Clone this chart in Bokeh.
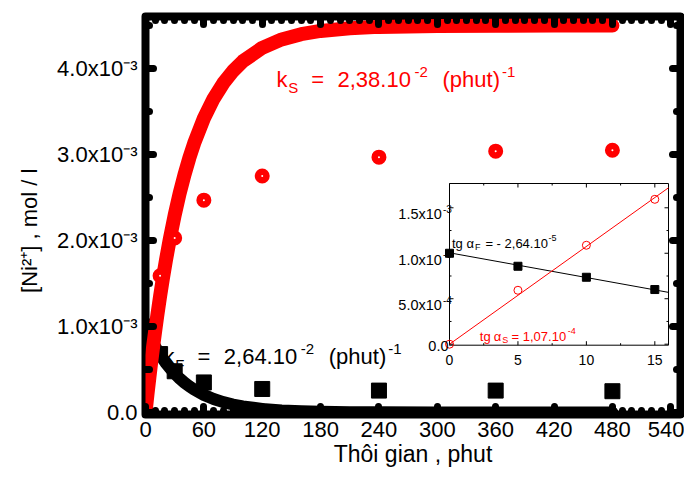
from bokeh.plotting import figure
from bokeh.models import (Range1d, LinearAxis, SingleIntervalTicker,
                          CustomJSTickFormatter, Label)
from bokeh.embed import file_html
from bokeh.resources import INLINE

# ---------------- data ----------------
t_obs = [0, 15, 30, 60, 120, 240, 360, 480]
ni_S_obs = [0.0, 1.59e-3, 2.03e-3, 2.47e-3, 2.75e-3, 2.97e-3, 3.04e-3, 3.05e-3]
ni_F_obs = [1.0e-3, 0.68e-3, 0.48e-3, 0.35e-3, 0.274e-3, 0.255e-3, 0.255e-3, 0.248e-3]

t_fit = [0, 2, 4, 6, 8, 10, 12, 15, 18, 21, 25, 30, 35, 40, 45, 50, 60, 70, 80,
         90, 100, 120, 140, 160, 180, 210, 240, 300, 360, 420, 480]
ni_S_fit = [0.0, 0.209e-3, 0.409e-3, 0.599e-3, 0.780e-3, 0.953e-3, 1.118e-3,
            1.351e-3, 1.568e-3, 1.770e-3, 2.018e-3, 2.296e-3, 2.544e-3, 2.763e-3,
            2.958e-3, 3.131e-3, 3.421e-3, 3.650e-3, 3.830e-3, 3.972e-3, 4.084e-3,
            4.241e-3, 4.339e-3, 4.400e-3, 4.438e-3, 4.470e-3, 4.485e-3, 4.496e-3,
            4.499e-3, 4.500e-3, 4.500e-3]
ni_F_fit = [1.0e-3, 0.949e-3, 0.900e-3, 0.854e-3, 0.810e-3, 0.768e-3, 0.728e-3,
            0.673e-3, 0.622e-3, 0.574e-3, 0.517e-3, 0.453e-3, 0.397e-3, 0.348e-3,
            0.305e-3, 0.267e-3, 0.205e-3, 0.158e-3, 0.121e-3, 0.093e-3, 0.071e-3,
            0.042e-3, 0.025e-3, 0.015e-3, 0.009e-3, 0.004e-3, 0.002e-3, 0.0004e-3,
            0.0001e-3, 0.0, 0.0]

y_ticks = [0.0, 1.0e-3, 2.0e-3, 3.0e-3, 4.0e-3]
y_tick_labels = ["0.0", "1.0x10\u207b\u00b3", "2.0x10\u207b\u00b3",
                 "3.0x10\u207b\u00b3", "4.0x10\u207b\u00b3"]
x_title = "Thôi gian , phut"
y_title = "[Ni\u00b2\u207a] , mol / l"

inset_t = [0, 5, 10, 15]
inset_F = [1.0e-3, 0.857e-3, 0.736e-3, 0.601e-3]
inset_S = [0.0, 0.593e-3, 1.088e-3, 1.593e-3]
inset_fit_t = [0, 16]
inset_fit_F = [1.005e-3, 0.570e-3]
inset_fit_S = [0.0, 1.720e-3]
inset_x_ticks = [0, 5, 10, 15]
inset_x_minor = [2.5, 7.5, 12.5]
inset_x_text = ["0", "5", "10", "15"]
inset_y_ticks = [0.0, 0.5e-3, 1.0e-3, 1.5e-3]
inset_y_minor = [0.25e-3, 0.75e-3, 1.25e-3]
inset_y_text = ["0.0", "5.0x10", "1.0x10", "1.5x10"]
inset_y_sup = ["", "-4", "-3", "-3"]

RED = "#ff0000"
FONT = "Liberation Sans"

# ---------------- geometry ----------------
W, H = 684, 469
FL, FR, FT, FB = 145, 680, 16, 414          # intended frame in canvas px
X0, X1 = 0.0, 550.0
Y0, Y1 = -0.0229e-3, 4.6057e-3
IX0, IX1 = 0.0, 16.0
IY0, IY1 = -0.011e-3, 1.767e-3
IL, IR, IT, IB = 449.0, 668.0, 183.0, 344.7  # inset box in canvas px

sxm = (FR - FL) / (X1 - X0)
sym = (FB - FT) / (Y1 - Y0)
sxi = (IR - IL) / (IX1 - IX0)
syi = (IB - IT) / (IY1 - IY0)

p = figure(width=W, height=H, x_range=Range1d(X0, X1), y_range=Range1d(Y0, Y1),
           output_backend="svg", toolbar_location=None,
           min_border_left=FL, min_border_right=W - FR,
           min_border_top=FT, min_border_bottom=H - FB)
p.extra_x_ranges = {"ix": Range1d(IX0 - (IL - FL) / sxi, IX1 + (FR - IR) / sxi)}
p.extra_y_ranges = {"iy": Range1d(IY0 - (FB - IB) / syi, IY1 + (IT - FT) / syi)}
p.grid.visible = False
p.background_fill_color = "white"
p.border_fill_color = "white"
p.outline_line_color = "black"
p.outline_line_width = 8
p.outline_line_join = "round"

blank = CustomJSTickFormatter(code="return ''")


def style_axis(ax):
    ax.axis_line_color = None
    ax.major_tick_in = 8
    ax.major_tick_out = 0
    ax.minor_tick_in = 4
    ax.minor_tick_out = 0
    ax.major_tick_line_width = 7
    ax.minor_tick_line_width = 7
    ax.major_tick_line_cap = "round"
    ax.minor_tick_line_cap = "round"
    ax.major_tick_line_color = "black"
    ax.minor_tick_line_color = "black"
    ax.major_label_text_font = FONT
    ax.major_label_text_font_size = "22px"
    ax.major_label_text_font_style = "normal"
    ax.major_label_text_color = "black"
    ax.axis_label_text_font = FONT
    ax.axis_label_text_font_size = "22px"
    ax.axis_label_text_font_style = "normal"
    ax.axis_label_text_color = "black"


def hide_labels(ax):
    ax.formatter = blank
    ax.major_label_text_font_size = "0px"
    ax.major_label_standoff = 0


xa = p.xaxis[0]
xa.ticker = SingleIntervalTicker(interval=60, num_minor_ticks=6)
style_axis(xa)
xa.major_label_standoff = 7
xa.axis_label = x_title
xa.axis_label_text_font_size = "23px"
xa.axis_label_standoff = 1

ya = p.yaxis[0]
ya.ticker = SingleIntervalTicker(interval=1e-3, num_minor_ticks=2)
style_axis(ya)
ya.formatter = CustomJSTickFormatter(
    args=dict(tv=y_ticks, labs=y_tick_labels),
    code="for (let i = 0; i < tv.length; i++) {"
         " if (Math.abs(tick - tv[i]) < 1e-9) return labs[i]; }"
         " return '';")
ya.major_label_standoff = 8
ya.axis_label = y_title + "\u00a0" * 5
ya.axis_label_standoff = 12

top_ax = LinearAxis(ticker=SingleIntervalTicker(interval=60, num_minor_ticks=6))
style_axis(top_ax)
hide_labels(top_ax)
p.add_layout(top_ax, "above")
right_ax = LinearAxis(ticker=SingleIntervalTicker(interval=1e-3, num_minor_ticks=2))
style_axis(right_ax)
hide_labels(right_ax)
p.add_layout(right_ax, "right")

# ---------------- main data ----------------
p.scatter(t_obs, ni_F_obs, marker="square", size=15, color="black")
p.line(t_fit, ni_F_fit, line_color="black", line_width=12, line_cap="round", line_join="round")
p.line(t_fit, ni_S_fit, line_color=RED, line_width=14, line_cap="round", line_join="round")
p.scatter(t_obs, ni_S_obs, marker="circle", size=8.5, line_width=6.5,
          line_color=RED, fill_color="white")

# ---------------- inset ----------------
p.quad(left=[IX0], right=[IX1], bottom=[IY0], top=[IY1], fill_color="white",
       line_color="black", line_width=1, x_range_name="ix", y_range_name="iy")


def inset_ticks(vals, length_px, axis):
    xs0, ys0, xs1, ys1 = [], [], [], []
    for v in vals:
        if axis == "x":
            d = length_px / syi
            xs0 += [v, v]; xs1 += [v, v]
            ys0 += [IY0, IY1]; ys1 += [IY0 + d, IY1 - d]
        else:
            d = length_px / sxi
            ys0 += [v, v]; ys1 += [v, v]
            xs0 += [IX0, IX1]; xs1 += [IX0 + d, IX1 - d]
    p.segment(xs0, ys0, xs1, ys1, line_color="black", line_width=1,
              x_range_name="ix", y_range_name="iy")


inset_ticks(inset_x_ticks, 4, "x")
inset_ticks(inset_x_minor, 2, "x")
inset_ticks(inset_y_ticks, 4, "y")
inset_ticks(inset_y_minor, 2, "y")

p.line(inset_fit_t, inset_fit_F, line_color="black", line_width=1,
       x_range_name="ix", y_range_name="iy")
p.line(inset_fit_t, inset_fit_S, line_color=RED, line_width=1,
       x_range_name="ix", y_range_name="iy")
p.scatter(inset_t, inset_F, marker="square", size=8, color="black",
          x_range_name="ix", y_range_name="iy")
p.scatter(inset_t, inset_S, marker="circle", size=8, line_color=RED,
          fill_color=None, line_width=1, x_range_name="ix", y_range_name="iy")


# ---------------- texts inside the frame ----------------
def label(text, x, y, size, color="black", align="left", inset=False):
    kw = dict(x_range_name="ix", y_range_name="iy") if inset else {}
    p.add_layout(Label(x=x, y=y, text=text, text_font=FONT,
                       text_font_size=f"{size}px", text_color=color,
                       text_align=align, text_baseline="alphabetic", **kw))


def rich(x, y, pieces, color, inset=False):
    """pieces: (text, size, dx_px, dy_px) relative to the data anchor (dy down)."""
    kx = sxi if inset else sxm
    ky = syi if inset else sym
    for text, size, dx, dy in pieces:
        label(text, x + dx / kx, y - dy / ky, size, color, inset=inset)


# rate constants (anchors in data units of the main plot)
rich(134.7, 3.874e-3, [("k", 22, 0, 0), ("S", 15, 11.7, 8), ("=", 22, 34.7, 0),
                       ("2,38.10", 22, 61.0, 0), ("-2", 15, 138.0, -7.3),
                       ("(phut)", 22, 166.0, 0), ("-1", 15, 225.5, -7.3)], RED)
rich(18.5, 0.655e-3, [("k", 22, 0, 0), ("F", 15, 11.7, 8), ("=", 22, 34.0, 0),
                      ("2,64.10", 22, 60.3, 0), ("-2", 15, 137.3, -7.3),
                      ("(phut)", 22, 165.3, 0), ("-1", 15, 224.8, -7.3)], "black")

# inset tick labels
for v, txt in zip(inset_x_ticks, inset_x_text):
    label(txt, v, IY0 - 15 / syi, 14, align="center", inset=True)
for v, txt, sup in zip(inset_y_ticks, inset_y_text, inset_y_sup):
    if sup:
        label(txt, IX0 - 7.6 / sxi, v - 6.4 / syi, 14.5, align="right", inset=True)
        label(sup, IX0 - 6.6 / sxi, v - 1.0 / syi, 10, inset=True)
    else:
        label(txt, IX0 - 1.0 / sxi, v - 1.6 / syi, 14.5, align="right", inset=True)

# inset annotations (anchors in inset data units)
rich(0.175, 1.107e-3, [("tg", 13, 0, 0), ("α", 13, 14.5, 0), ("F", 9, 23.0, 3.5),
                       ("= - 2,64.10", 13, 33.5, 0), ("-5", 9, 96.5, -6)],
     "black", inset=True)
rich(2.217, 0.0814e-3, [("tg", 13, 0, 0), ("α", 13, 14.0, 0), ("S", 9, 22.5, 3.4),
                        ("= 1,07.10", 13, 31.7, 0), ("-4", 9, 88.0, -5.8)],
     RED, inset=True)

open("out.html", "w").write(file_html(p, INLINE))
